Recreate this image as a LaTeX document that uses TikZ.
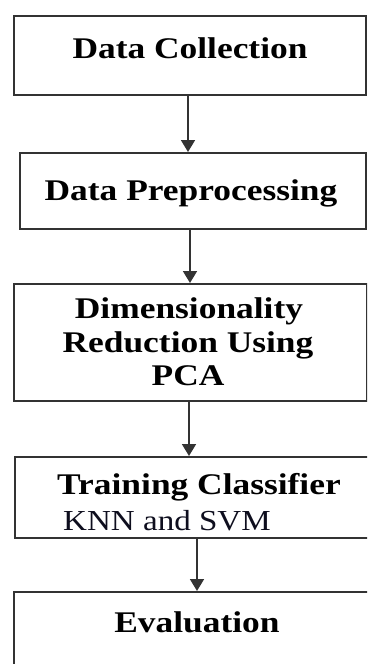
\documentclass[tikz,border=0pt]{standalone}
\usepackage{fontspec}
\setmainfont{Liberation Serif}
\newfontfamily\stepfont[FakeStretch=1.18]{Liberation Serif}
\newfontfamily\notefont[FakeStretch=1.14]{Liberation Serif}
\usetikzlibrary{arrows.meta}
\definecolor{edgegray}{HTML}{333333}
\definecolor{notenavy}{HTML}{0E0E1E}
\begin{document}
\begin{tikzpicture}[x=1pt,y=-1pt,
  stepbox/.style={draw=edgegray, line width=1.7pt, rectangle, inner sep=0pt, anchor=north west},
  steptext/.style={font=\stepfont\bfseries\fontsize{30}{33}\selectfont, inner sep=0pt, anchor=base},
  notetext/.style={font=\notefont\fontsize{29}{32}\selectfont, text=notenavy, inner sep=0pt, anchor=base west},
  flow/.style={draw=edgegray, line width=1.7pt, -{Triangle[width=14pt,length=12pt]}}]
  \clip (0,0) rectangle (367,664);
  \fill[white] (0,0) rectangle (367,664);

  % boxes of the pipeline
  \node[stepbox, minimum width=352pt, minimum height=79pt]  (b1) at (13,15)  {};
  \node[stepbox, minimum width=346pt, minimum height=76pt]  (b2) at (19,152) {};
  \node[stepbox, minimum width=353pt, minimum height=117pt] (b3) at (13,283) {};
  \node[stepbox, minimum width=358pt, minimum height=81pt]  (b4) at (14,456) {};
  \node[stepbox, minimum width=359pt, minimum height=85pt]  (b5) at (13,591) {};

  % captions
  \node[steptext] (t1) at (190,58)  {Data Collection};
  \node[steptext] (t2) at (191,200) {Data Preprocessing};
  \node[steptext] (t3a) at (189,318) {Dimensionality};
  \node[steptext] (t3b) at (188,352) {Reduction Using};
  \node[steptext] (t3c) at (188,385) {PCA};
  \node[steptext] (t4) at (199,494) {Training Classifier};
  \node[notetext] (t4n) at (63,530) {KNN and SVM};
  \node[steptext] (t5) at (197,632) {Evaluation};

  % arrows between consecutive steps
  \coordinate (x1) at (188,0);
  \coordinate (x2) at (190,0);
  \coordinate (x3) at (189,0);
  \coordinate (x4) at (197,0);
  \draw[flow] (b1.south -| x1) -- (b2.north -| x1);
  \draw[flow] (b2.south -| x2) -- (b3.north -| x2);
  \draw[flow] (b3.south -| x3) -- (b4.north -| x3);
  \draw[flow] (b4.south -| x4) -- (b5.north -| x4);
\end{tikzpicture}
\end{document}
